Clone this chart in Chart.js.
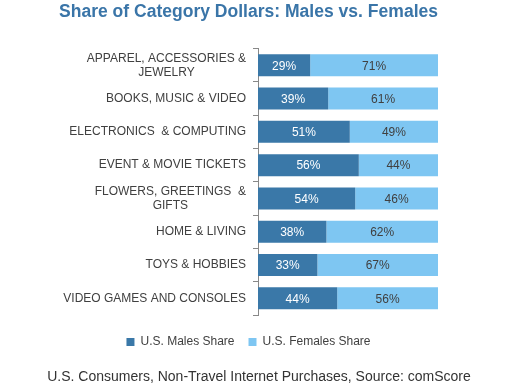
<!DOCTYPE html>
<html>
<head>
<meta charset="utf-8">
<script src="https://cdn.jsdelivr.net/npm/chart.js@4"></script>
<style>
  html, body { margin: 0; padding: 0; background: #ffffff; }
  #wrap { width: 520px; height: 391px; }
</style>
</head>
<body>
<div id="wrap"><canvas id="c" width="520" height="391"></canvas></div>
<script>
const categories = [
  ["APPAREL, ACCESSORIES &", "JEWELRY"],
  ["BOOKS, MUSIC & VIDEO"],
  ["ELECTRONICS  & COMPUTING"],
  ["EVENT & MOVIE TICKETS"],
  ["FLOWERS, GREETINGS  &", "GIFTS"],
  ["HOME & LIVING"],
  ["TOYS & HOBBIES"],
  ["VIDEO GAMES AND CONSOLES"]
];
const malesShare = [29, 39, 51, 56, 54, 38, 33, 44];
const femalesShare = [71, 61, 49, 44, 46, 62, 67, 56];
const seriesNames = ["U.S. Males Share", "U.S. Females Share"];
const titleText = "Share of Category Dollars: Males vs. Females";
const sourceText = "U.S. Consumers, Non-Travel Internet Purchases, Source: comScore";

const FONT = "'Liberation Sans', Arial, sans-serif";
const DARK = "#3A78A8";
const LIGHT = "#7EC6F2";
const TEXT = "#404040";

const labelPlugin = {
  id: 'customText',
  afterDatasetsDraw(chart) {
    const ctx = chart.ctx;
    ctx.save();
    // value labels
    ctx.font = "12px " + FONT;
    ctx.textAlign = 'center';
    ctx.textBaseline = 'middle';
    chart.data.datasets.forEach((ds, di) => {
      const meta = chart.getDatasetMeta(di);
      meta.data.forEach((bar, i) => {
        const p = bar.getProps(['x', 'y', 'base'], true);
        ctx.fillStyle = di === 0 ? '#ffffff' : TEXT;
        ctx.fillText(ds.data[i] + '%', (p.x + p.base) / 2, p.y + 1);
      });
    });
    // category labels
    const yScale = chart.scales.y;
    const right = chart.chartArea.left - 12;
    ctx.fillStyle = TEXT;
    categories.forEach((lines, i) => {
      const cy = yScale.getPixelForValue(i);
      const widths = lines.map(l => ctx.measureText(l).width);
      const maxW = Math.max(...widths);
      const cx = right - maxW / 2;
      const lh = 14;
      const y0 = cy - (lines.length - 1) * lh / 2;
      lines.forEach((l, k) => {
        ctx.textAlign = 'center';
        ctx.fillText(l, cx, y0 + k * lh);
      });
    });
    // source
    ctx.font = "14px " + FONT;
    ctx.fillStyle = "#333333";
    ctx.textAlign = 'center';
    ctx.fillText(sourceText, 259, 377);
    ctx.restore();
  }
};

new Chart(document.getElementById('c'), {
  type: 'bar',
  data: {
    labels: categories,
    datasets: [
      { label: seriesNames[0], data: malesShare, backgroundColor: DARK },
      { label: seriesNames[1], data: femalesShare, backgroundColor: LIGHT }
    ]
  },
  options: {
    indexAxis: 'y',
    responsive: false,
    animation: false,
    devicePixelRatio: 1,
    barPercentage: 0.66,
    categoryPercentage: 1,
    layout: { padding: { left: 59, right: 82, top: 0, bottom: 33 } },
    plugins: {
      title: {
        display: true,
        text: titleText,
        color: "#3A75A8",
        font: { family: FONT, size: 18, weight: 'bold' },
        padding: { top: 1, bottom: 26 }
      },
      legend: {
        position: 'bottom',
        labels: {
          color: TEXT,
          font: { family: FONT, size: 12 },
          boxWidth: 8,
          boxHeight: 8,
          padding: 14
        }
      },
      tooltip: { enabled: false }
    },
    scales: {
      x: {
        stacked: true, min: 0, max: 100, display: true,
        afterFit(scale) { scale.height = 7; },
        ticks: { display: false },
        grid: { display: false },
        border: { display: false }
      },
      y: {
        stacked: true,
        offset: true,
        afterFit(scale) { scale.width = 199; },
        ticks: { display: false },
        grid: { drawOnChartArea: false, drawTicks: true, tickLength: 5, color: '#888888', offset: true },
        border: { color: '#888888' }
      }
    }
  },
  plugins: [labelPlugin]
});
</script>
</body>
</html>
